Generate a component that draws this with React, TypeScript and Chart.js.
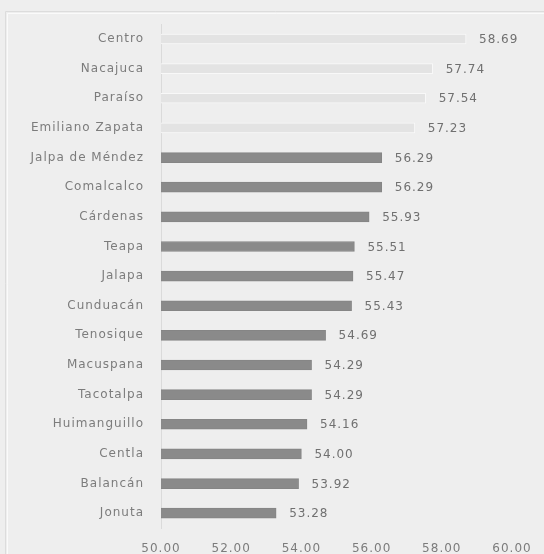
import React, { useEffect, useRef } from "react";
import { Chart, registerables } from "chart.js";

Chart.register(...registerables);

const municipios = [
  "Centro",
  "Nacajuca",
  "Paraíso",
  "Emiliano Zapata",
  "Jalpa de Méndez",
  "Comalcalco",
  "Cárdenas",
  "Teapa",
  "Jalapa",
  "Cunduacán",
  "Tenosique",
  "Macuspana",
  "Tacotalpa",
  "Huimanguillo",
  "Centla",
  "Balancán",
  "Jonuta",
];

const valores = [
  58.69, 57.74, 57.54, 57.23, 56.29, 56.29, 55.93, 55.51, 55.47, 55.43, 54.69,
  54.29, 54.29, 54.16, 54.0, 53.92, 53.28,
];

const X_MIN = 50;
const X_MAX = 60;
const X_STEP = 2;

const LIGHT_COUNT = 4;
const BG = "#eeeeee";
const LABEL = "#7c7c7c";
const VALUE = "#707070";
const FONT = "'DejaVu Sans', sans-serif";

const bgPlugin = {
  id: "bgFrame",
  beforeDraw(chart: any) {
    const ctx = chart.ctx;
    ctx.save();
    ctx.fillStyle = BG;
    ctx.fillRect(0, 0, chart.width, chart.height);
    ctx.strokeStyle = "#dcdcdc";
    ctx.lineWidth = 1;
    ctx.beginPath();
    ctx.moveTo(5.5, chart.height + 2);
    ctx.lineTo(5.5, 11.5);
    ctx.lineTo(chart.width + 2, 11.5);
    ctx.stroke();
    ctx.strokeStyle = "#fafafa";
    ctx.beginPath();
    ctx.moveTo(7.5, chart.height + 2);
    ctx.lineTo(7.5, 13.5);
    ctx.lineTo(chart.width + 2, 13.5);
    ctx.stroke();
    ctx.restore();
    (ctx as any).letterSpacing = "1px";
  },
};

const valuePlugin = {
  id: "valueLabels",
  afterDatasetsDraw(chart: any) {
    const ctx = chart.ctx;
    const meta = chart.getDatasetMeta(0);
    ctx.save();
    (ctx as any).letterSpacing = "1px";
    ctx.font = `12px ${FONT}`;
    ctx.fillStyle = VALUE;
    ctx.textAlign = "left";
    ctx.textBaseline = "middle";
    meta.data.forEach((bar: any, i: number) => {
      ctx.fillText(valores[i].toFixed(2), bar.x + 13, bar.y + 1);
    });
    ctx.restore();
  },
};

export default function App() {
  const ref = useRef<HTMLCanvasElement>(null);

  useEffect(() => {
    if (!ref.current) return;
    const chart = new Chart(ref.current, {
      type: "bar",
      data: {
        labels: municipios,
        datasets: [
          {
            data: valores,
            backgroundColor: valores.map((_, i) =>
              i < LIGHT_COUNT ? "#e3e3e3" : "#8a8a8a"
            ),
            borderColor: valores.map((_, i) =>
              i < LIGHT_COUNT ? "#f8f8f8" : "#858585"
            ),
            borderWidth: 1,
            borderSkipped: false,
            barThickness: 10,
          },
        ],
      },
      options: {
        indexAxis: "y",
        animation: false,
        responsive: false,
        maintainAspectRatio: false,
        layout: { padding: { top: 17, right: 32, bottom: 0, left: 0 } },
        plugins: {
          legend: { display: false },
          tooltip: { enabled: false },
        },
        scales: {
          x: {
            min: X_MIN,
            max: X_MAX,
            ticks: {
              stepSize: X_STEP,
              padding: 14,
              color: LABEL,
              font: { family: FONT, size: 12 },
              callback: (v: any) => Number(v).toFixed(2),
            },
            grid: { display: false, drawTicks: false },
            border: { display: false },
            afterFit: (s: any) => {
              s.height = 26;
            },
          },
          y: {
            ticks: {
              padding: 17,
              color: LABEL,
              font: { family: FONT, size: 12 },
            },
            grid: { display: true, color: "transparent", drawTicks: false },
            border: { display: true, color: "#dadada", width: 1 },
            afterFit: (s: any) => {
              s.width = 161;
            },
          },
        },
      },
      plugins: [bgPlugin, valuePlugin],
    });
    return () => chart.destroy();
  }, []);

  return (
    <div
      style={{
        position: "absolute",
        left: 0,
        top: 0,
        width: 544,
        height: 554,
        background: BG,
      }}
    >
      <canvas ref={ref} width={544} height={554} />
    </div>
  );
}
